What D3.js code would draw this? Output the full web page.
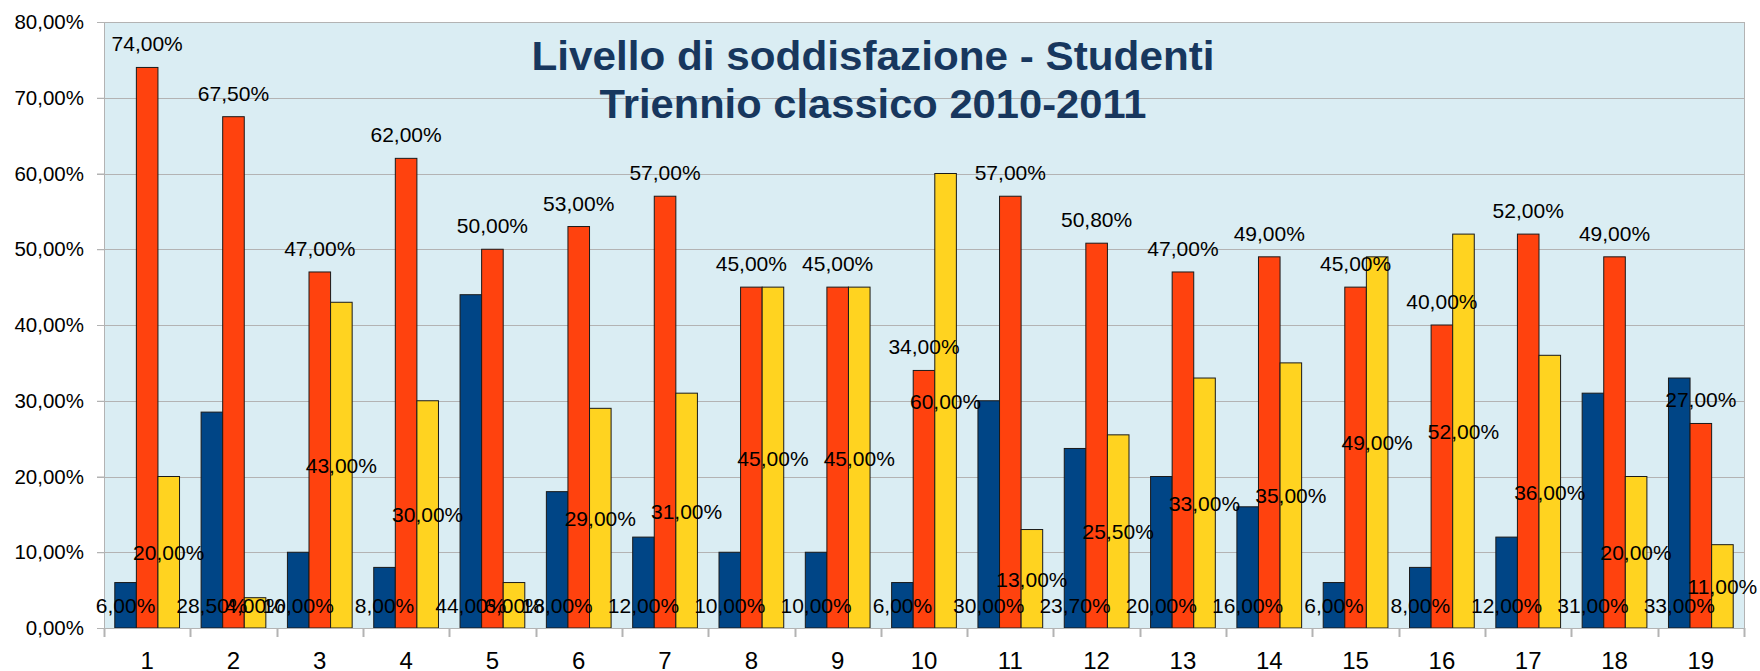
<!DOCTYPE html>
<html>
<head>
<meta charset="utf-8">
<script src="https://cdn.jsdelivr.net/npm/d3@7/dist/d3.min.js"></script>
<style>
  body { margin: 0; background: #fff; }
  svg { display: block; font-family: "Liberation Sans", Arial, sans-serif; }
  .grid line { stroke: #b3b3b3; stroke-width: 1; }
  .bar { stroke: #1a1a1a; stroke-width: 1; }
  .lbl { font-size: 21px; fill: #000; text-anchor: middle; }
</style>
</head>
<body>
<svg width="1760" height="671"></svg>
<script>
// data
var groups = ["1","2","3","4","5","6","7","8","9","10","11","12","13","14","15","16","17","18","19"];
var seriesNames = ["blu", "arancio", "giallo"];
var blue   = [6, 28.5, 10, 8, 44, 18, 12, 10, 10, 6, 30, 23.7, 20, 16, 6, 8, 12, 31, 33];
var orange = [74, 67.5, 47, 62, 50, 53, 57, 45, 45, 34, 57, 50.8, 47, 49, 45, 40, 52, 49, 27];
var yellow = [20, 4, 43, 30, 6, 29, 31, 45, 45, 60, 13, 25.5, 33, 35, 49, 52, 36, 20, 11];
var yTicks = [0, 10, 20, 30, 40, 50, 60, 70, 80];
var titleLines = ["Livello di soddisfazione - Studenti", "Triennio classico 2010-2011"];

var colors = ["#004586", "#ff420e", "#ffd320"];
var series = [blue, orange, yellow];

var margin = {left: 104, right: 16, top: 22, bottom: 43};
var W = 1760, H = 671;
var svg = d3.select("svg");

var x = d3.scaleBand().domain(groups).range([margin.left, W - margin.right]).padding(0);
var xs = d3.scaleBand().domain([0, 1, 2]).range([0, x.bandwidth()]).paddingInner(0).paddingOuter(0.5);
var y = d3.scaleLinear().domain([0, 80]).range([H - margin.bottom, margin.top]);

var fmt = function(v) { return d3.format(".2f")(v).replace(".", ",") + "%"; };

// plot background
svg.append("rect")
  .attr("x", margin.left).attr("y", margin.top)
  .attr("width", W - margin.right - margin.left)
  .attr("height", y(0) - margin.top)
  .attr("fill", "#daedf3");

// grid lines
svg.append("g").attr("class", "grid")
  .selectAll("line").data(yTicks).enter().append("line")
  .attr("x1", margin.left - 7).attr("x2", W - margin.right)
  .attr("y1", function(d) { return Math.round(y(d)) + 0.5; })
  .attr("y2", function(d) { return Math.round(y(d)) + 0.5; });

// right border
svg.append("line")
  .attr("x1", W - margin.right + 0.5).attr("x2", W - margin.right + 0.5)
  .attr("y1", margin.top).attr("y2", y(0))
  .attr("stroke", "#b3b3b3");

// title
var title = svg.append("text")
  .attr("fill", "#17375e")
  .attr("font-weight", "bold")
  .attr("font-size", 41)
  .attr("text-anchor", "middle");
title.append("tspan").attr("x", 873).attr("y", 70)
  .attr("textLength", 683).attr("lengthAdjust", "spacingAndGlyphs")
  .text(titleLines[0]);
title.append("tspan").attr("x", 873).attr("y", 118)
  .attr("textLength", 547).attr("lengthAdjust", "spacingAndGlyphs")
  .text(titleLines[1]);

// bars
var bars = svg.append("g");
series.forEach(function(vals, si) {
  bars.selectAll("rect.s" + si).data(vals).enter().append("rect")
    .attr("class", "bar s" + si)
    .attr("x", function(d, i) { return x(groups[i]) + xs(si); })
    .attr("y", function(d) { return y(d); })
    .attr("width", xs.bandwidth())
    .attr("height", function(d) { return y(0) - y(d); })
    .attr("fill", colors[si]);
});

// y axis
var yAxis = svg.append("g")
  .attr("transform", "translate(" + margin.left + ",0)")
  .call(d3.axisLeft(y).tickValues(yTicks).tickSize(7).tickPadding(13).tickFormat(fmt));
yAxis.selectAll("text").attr("font-size", 20.5).attr("fill", "#000").attr("font-family", "Liberation Sans, Arial, sans-serif");
yAxis.selectAll("line").attr("stroke", "#b3b3b3");
yAxis.select(".domain").attr("stroke", "#b3b3b3");

// x axis: ticks at group boundaries
var xAxis = svg.append("g").attr("transform", "translate(0," + y(0) + ")");
xAxis.append("line")
  .attr("x1", margin.left).attr("x2", W - margin.right)
  .attr("y1", 0.5).attr("y2", 0.5).attr("stroke", "#b3b3b3");
var bounds = groups.map(function(g) { return x(g); }).concat([x(groups[groups.length - 1]) + x.bandwidth()]);
xAxis.selectAll("line.tk").data(bounds).enter().append("line")
  .attr("class", "tk")
  .attr("x1", function(d) { return Math.round(d) + 0.5; })
  .attr("x2", function(d) { return Math.round(d) + 0.5; })
  .attr("y1", 0).attr("y2", 9).attr("stroke", "#b3b3b3").attr("stroke-width", 2);
xAxis.selectAll("text").data(groups).enter().append("text")
  .attr("x", function(d) { return x(d) + x.bandwidth() / 2; })
  .attr("y", 41)
  .attr("text-anchor", "middle")
  .attr("font-size", 24)
  .text(function(d) { return d; });

// data labels
var labels = svg.append("g");
var baseY = y(0) - 15;
// blue: inside, at base
labels.selectAll("text.b").data(blue).enter().append("text")
  .attr("class", "lbl b")
  .attr("x", function(d, i) { return x(groups[i]) + xs(0) + xs.bandwidth() / 2; })
  .attr("y", baseY)
  .text(fmt);
// orange: above the bar
labels.selectAll("text.o").data(orange).enter().append("text")
  .attr("class", "lbl o")
  .attr("x", function(d, i) { return x(groups[i]) + xs(1) + xs.bandwidth() / 2; })
  .attr("y", function(d) { return y(d) - 16; })
  .text(fmt);
// yellow: centred in the bar, never lower than the base row
labels.selectAll("text.g").data(yellow).enter().append("text")
  .attr("class", "lbl g")
  .attr("x", function(d, i) { return x(groups[i]) + xs(2) + xs.bandwidth() / 2; })
  .attr("y", function(d) { return Math.min(y(d / 2) + 8, baseY); })
  .text(fmt);
</script>
</body>
</html>
